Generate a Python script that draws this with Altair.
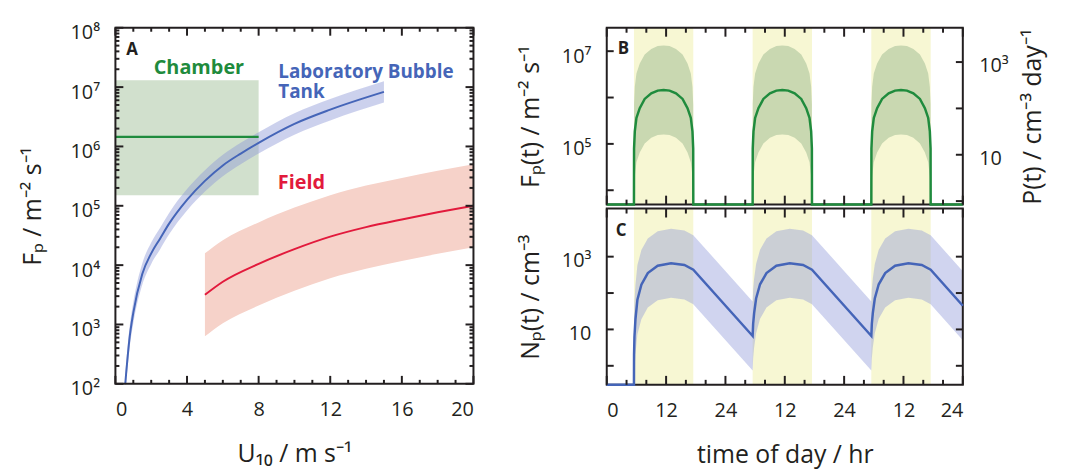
import math
import altair as alt
import pandas as pd

FONT = "Open Sans"
INK = "#231f20"
GREEN = "#1f8b3d"
BLUE = "#4565b8"
RED = "#e21a3c"

# ================= DATA =================
# ---- Panel A : F_P vs U10 ----
chamber_u = [0, 8]
chamber_F = [1.45e6, 1.45e6]
chamber_lo = [1.5e5, 1.5e5]
chamber_hi = [1.3e7, 1.3e7]

lab_u = [0.55, 0.8, 1.0, 1.5, 2.0, 2.5, 3.0, 4.0, 5.0, 6.0, 7.0, 8.0, 10.0, 12.0, 15.0]
lab_F = [100, 631, 1585, 7079, 1.58e4, 2.82e4, 5.01e4, 1.26e5, 2.63e5, 4.79e5, 7.59e5, 1.15e6, 2.4e6, 4.17e6, 8.3e6]
lab_hi = [151, 955, 2399, 1.07e4, 2.4e4, 4.27e4, 7.59e4, 1.91e5, 3.98e5, 7.24e5, 1.15e6, 1.74e6, 3.63e6, 6.31e6, 1.26e7]
lab_lo = [66, 417, 1047, 4677, 1.05e4, 1.86e4, 3.31e4, 8.32e4, 1.74e5, 3.16e5, 5.01e5, 7.59e5, 1.58e6, 2.75e6, 5.5e6]

field_u = [5, 6, 8, 10, 12, 14, 16, 18, 20]
field_F = [3162, 5248, 1.05e4, 1.86e4, 3.02e4, 4.37e4, 5.89e4, 7.76e4, 1.0e5]
field_hi = [1.58e4, 2.63e4, 5.25e4, 9.33e4, 1.51e5, 2.19e5, 2.95e5, 3.89e5, 5.01e5]
field_lo = [631, 1047, 2089, 3715, 6026, 8710, 1.17e4, 1.55e4, 2.0e4]

A_x_major = [0, 4, 8, 12, 16, 20]
A_x_minor = [1, 2, 3, 5, 6, 7, 9, 10, 11, 13, 14, 15, 17, 18, 19]
A_decades = [2, 3, 4, 5, 6, 7, 8]
A_mantissa = [2, 3, 4, 5, 6, 7, 8, 9]

A_text = ["A", "Chamber", "Laboratory Bubble\nTank", "Field"]
A_text_u = [0.6, 2.14, 9.1, 9.07]
A_text_F = [3.5e7, 1.66e7, 1.45e7, 1.95e5]
A_text_color = [INK, GREEN, BLUE, RED]
A_text_size = [17, 20, 19, 20]

# ---- Panels B, C : diurnal cycle ----
sunrise = [5.5, 29.5, 53.5]
sunset = [17.5, 41.5, 65.5]

hump_off = [0, 0.02, 0.17, 0.5, 1.17, 2.17, 3.5, 4.8, 6.0, 7.2, 8.5, 9.83, 10.83, 11.5, 11.83, 11.98, 12]
hump_F = [4.9e3, 7.9e4, 1.86e5, 3.63e5, 5.89e5, 9.33e5, 1.23e6, 1.41e6, 1.46e6, 1.41e6, 1.23e6, 9.33e5, 5.89e5, 3.63e5, 1.86e5, 7.9e4, 4.9e3]
hump_hi = [4.9e3, 7.2e5, 1.7e6, 3.3e6, 5.4e6, 8.5e6, 1.12e7, 1.29e7, 1.33e7, 1.29e7, 1.12e7, 8.5e6, 5.4e6, 3.3e6, 1.7e6, 7.2e5, 4.9e3]
hump_lo = [4.9e3, 8.7e3, 2.0e4, 4.0e4, 6.5e4, 1.02e5, 1.35e5, 1.55e5, 1.6e5, 1.55e5, 1.35e5, 1.02e5, 6.5e4, 4.0e4, 2.0e4, 8.7e3, 4.9e3]
B_night = 4.9e3

C_t = [0, 5.5, 5.52, 5.6, 5.8, 6.2, 7.0, 8.3, 10.3, 13.0, 15.7, 17.5,
       29.5, 29.6, 29.8, 30.2, 31.0, 32.3, 34.3, 37.0, 39.7, 41.5,
       53.5, 53.6, 53.8, 54.2, 55.0, 56.3, 58.3, 61.0, 63.7, 65.5, 72]
C_N = [0.3, 0.3, 2.0, 6.3, 18.8, 66, 170, 355, 562, 661, 589, 437,
       6.6, 14.1, 28.2, 70.8, 174, 355, 562, 661, 589, 437,
       6.6, 14.1, 28.2, 70.8, 174, 355, 562, 661, 589, 437, 44.7]
Cb_t = [5.5, 5.52, 5.6, 5.8, 6.2, 7.0, 8.3, 10.3, 13.0, 15.7, 17.5,
        29.5, 29.6, 29.8, 30.2, 31.0, 32.3, 34.3, 37.0, 39.7, 41.5,
        53.5, 53.6, 53.8, 54.2, 55.0, 56.3, 58.3, 61.0, 63.7, 65.5, 72]
C_hi = [0.3, 17.8, 56, 168, 589, 1514, 3162, 5012, 5888, 5248, 3890,
        58.9, 126, 251, 631, 1549, 3162, 5012, 5888, 5248, 3890,
        58.9, 126, 251, 631, 1549, 3162, 5012, 5888, 5248, 3890, 398]
C_lo = [0.3, 0.3, 0.71, 2.11, 7.4, 19.1, 39.8, 63, 74, 66, 49,
        0.74, 1.58, 3.16, 7.9, 19.5, 39.8, 63, 74, 66, 49,
        0.74, 1.58, 3.16, 7.9, 19.5, 39.8, 63, 74, 66, 49, 5.0]

T_major = [0, 12, 24, 36, 48, 60, 72]
T_minor = [4, 8, 16, 20, 28, 32, 40, 44, 52, 56, 64, 68]
B_F_ticks = [1e4, 1e5, 1e6, 1e7]
B_P_ticks = [1, 10, 100, 1000]
C_N_ticks = [1, 10, 100, 1000]

# domains
A_U_DOM = [0, 20]
A_F_DOM = [1e2, 1e8]
T_DOM = [0, 72]
B_F_DOM = [4.9e3, 3.2e7]
B_P_DOM = [0.84, 5.5e3]
C_N_DOM = [0.3, 2.1e4]

# ================= LAYOUT (pixels, plot-area coordinates) =================
W, H = 854.4, 360
A_L, A_R, A_T, A_B = 0, 361, 0, 359
BC_L, BC_R = 495.4, 854.4
B_T, B_B = 0, 178.3
C_T, C_B = 182.3, 360
TICK_W = 2


def lin(dom, rng):
    return alt.Scale(domain=dom, range=rng, nice=False, zero=False)


def logs(dom, rng):
    return alt.Scale(type="log", domain=dom, range=rng, nice=False)


sAx = lin(A_U_DOM, [A_L, A_R])
sAy = logs(A_F_DOM, [A_B, A_T])
sTx = lin(T_DOM, [BC_L, BC_R])
sBy = logs(B_F_DOM, [B_B, B_T])
sBp = logs(B_P_DOM, [B_B, B_T])
sCy = logs(C_N_DOM, [C_B, C_T])


def label_axis(orient, edge, values, **kw):
    if orient == "left":
        off = -edge
    elif orient == "right":
        off = edge - W
    elif orient == "top":
        off = -edge
    else:
        off = edge - H
    d = dict(orient=orient, values=values, offset=off, domain=False, ticks=False,
             grid=False, labels=True)
    d.update(kw)
    return alt.Axis(**d)


def xaxis_layer(values, scale, axis):
    return alt.Chart(pd.DataFrame({"v": values})).mark_point(opacity=0).encode(
        x=alt.X("v:Q", scale=scale, axis=axis))


def yaxis_layer(values, scale, axis):
    return alt.Chart(pd.DataFrame({"v": values})).mark_point(opacity=0).encode(
        y=alt.Y("v:Q", scale=scale, axis=axis))


def tick_layer(values, side, sx, sy, xdom, xrng, ydom, yrng, length):
    """Inward tick marks along one edge of a panel, drawn as rules.
    The tick length (pixels) is converted to data units of the scale."""
    if side in ("left", "right"):
        dx = length * (xdom[1] - xdom[0]) / abs(xrng[1] - xrng[0])
        e0 = xdom[0] if side == "left" else xdom[1]
        e1 = e0 + dx if side == "left" else e0 - dx
        df = pd.DataFrame({"v": values, "e0": [e0] * len(values), "e1": [e1] * len(values)})
        return alt.Chart(df).mark_rule(color=INK, strokeWidth=TICK_W, opacity=1).encode(
            y=alt.Y("v:Q", scale=sy, axis=None),
            x=alt.X("e0:Q", scale=sx, axis=None), x2="e1:Q")
    span = math.log10(ydom[1]) - math.log10(ydom[0])
    fac = 10 ** (length * span / abs(yrng[1] - yrng[0]))
    e0 = ydom[1] if side == "top" else ydom[0]
    e1 = e0 / fac if side == "top" else e0 * fac
    df = pd.DataFrame({"v": values, "e0": [e0] * len(values), "e1": [e1] * len(values)})
    return alt.Chart(df).mark_rule(color=INK, strokeWidth=TICK_W, opacity=1).encode(
        x=alt.X("v:Q", scale=sx, axis=None),
        y=alt.Y("e0:Q", scale=sy, axis=None), y2="e1:Q")


def sup_expr(decades):
    sup = {2: "²", 3: "³", 4: "⁴", 5: "⁵", 6: "⁶", 7: "⁷", 8: "⁸"}
    s = "''"
    for e in reversed(decades):
        lab = "10" if e == 1 else "10" + sup[e]
        s = f"datum.value == {10 ** e} ? '{lab}' : {s}"
    return s


def frame(xdom, ydom, sx, sy):
    df = pd.DataFrame({"x0": [xdom[0]], "x1": [xdom[1]], "y0": [ydom[0]], "y1": [ydom[1]]})
    return alt.Chart(df).mark_rect(fillOpacity=0, stroke=INK, strokeWidth=2).encode(
        x=alt.X("x0:Q", scale=sx, axis=None), x2="x1:Q",
        y=alt.Y("y0:Q", scale=sy, axis=None), y2="y1:Q")

# ================= Panel A =================
cham = pd.DataFrame({"u": chamber_u, "F": chamber_F, "lo": chamber_lo, "hi": chamber_hi})
lab = pd.DataFrame({"u": lab_u, "F": lab_F, "lo": lab_lo, "hi": lab_hi})
fld = pd.DataFrame({"u": field_u, "F": field_F, "lo": field_lo, "hi": field_hi})
atxt = pd.DataFrame({"u": A_text_u, "F": A_text_F, "t": A_text, "c": A_text_color, "s": A_text_size})

XA = lambda f: alt.X(f, scale=sAx, axis=None)
YA = lambda f: alt.Y(f, scale=sAy, axis=None)

A_minor_y = [m * 10 ** e for e in A_decades[:-1] for m in A_mantissa]
A_major_y = [10 ** e for e in A_decades]
A_geo = dict(sx=sAx, sy=sAy, xdom=A_U_DOM, xrng=[A_L, A_R], ydom=A_F_DOM, yrng=[A_B, A_T])

layers = [
    alt.Chart(cham).mark_rect(color="#a3c29b", opacity=0.5).encode(
        x=XA("min(u):Q"), x2="max(u):Q", y=YA("min(lo):Q"), y2="max(hi):Q"),
    alt.Chart(fld).mark_area(color="#f6d2c9", clip=True, interpolate="monotone").encode(
        x=XA("u:Q"), y=YA("lo:Q"), y2="hi:Q"),
    alt.Chart(lab).mark_area(color="#8f98d8", opacity=0.45, clip=True, interpolate="monotone").encode(
        x=XA("u:Q"), y=YA("lo:Q"), y2="hi:Q"),
    alt.Chart(cham).mark_line(color=GREEN, strokeWidth=2.5).encode(x=XA("u:Q"), y=YA("F:Q")),
    alt.Chart(lab).mark_line(color=BLUE, strokeWidth=2, clip=True, interpolate="monotone").encode(
        x=XA("u:Q"), y=YA("F:Q")),
    alt.Chart(fld).mark_line(color=RED, strokeWidth=2, interpolate="monotone").encode(
        x=XA("u:Q"), y=YA("F:Q")),
    alt.Chart(atxt).mark_text(align="left", baseline="alphabetic", font=FONT, fontWeight="bold",
                              lineBreak="\n", lineHeight=21).encode(
        x=XA("u:Q"), y=YA("F:Q"), text="t:N",
        color=alt.Color("c:N", scale=None), size=alt.Size("s:Q", scale=None)),
    frame(A_U_DOM, A_F_DOM, sAx, sAy),
    tick_layer(A_x_major, "bottom", length=8, **A_geo),
    tick_layer(A_x_minor, "bottom", length=4, **A_geo),
    tick_layer(A_x_major, "top", length=8, **A_geo),
    tick_layer(A_x_minor, "top", length=4, **A_geo),
    tick_layer(A_major_y, "left", length=8, **A_geo),
    tick_layer(A_minor_y, "left", length=4, **A_geo),
    tick_layer(A_major_y, "right", length=8, **A_geo),
    tick_layer(A_minor_y, "right", length=4, **A_geo),
    xaxis_layer(A_x_major, sAx, label_axis("bottom", A_B, A_x_major, labelPadding=16,
                                           title="U₁₀ / m s⁻¹", titlePadding=22)),
    yaxis_layer(A_major_y, sAy, label_axis("left", A_L, A_major_y, labelPadding=16,
                                           labelExpr=sup_expr(A_decades), labelOffset=5,
                                           title="Fₚ / m⁻² s⁻¹", titlePadding=25)),
]

# ================= Panel B =================
rows_line = [{"t": 0, "F": B_night}]
rows_band = []
for d, t0 in enumerate(sunrise):
    for o, f, hi, lo in zip(hump_off, hump_F, hump_hi, hump_lo):
        rows_line.append({"t": t0 + o, "F": f})
        rows_band.append({"t": t0 + o, "hi": hi, "lo": lo, "day": d})
rows_line.append({"t": 72, "F": B_night})
bline = pd.DataFrame(rows_line)
bband = pd.DataFrame(rows_band)
days_B = pd.DataFrame({"a": sunrise, "b": sunset, "y0": [B_F_DOM[0]] * 3, "y1": [B_F_DOM[1]] * 3})
days_C = pd.DataFrame({"a": sunrise, "b": sunset, "y0": [C_N_DOM[0]] * 3, "y1": [C_N_DOM[1]] * 3})

XT = lambda f: alt.X(f, scale=sTx, axis=None)
B_geo = dict(sx=sTx, sy=sBy, xdom=T_DOM, xrng=[BC_L, BC_R], ydom=B_F_DOM, yrng=[B_B, B_T])
Bp_geo = dict(sx=sTx, sy=sBp, xdom=T_DOM, xrng=[BC_L, BC_R], ydom=B_P_DOM, yrng=[B_B, B_T])
C_geo = dict(sx=sTx, sy=sCy, xdom=T_DOM, xrng=[BC_L, BC_R], ydom=C_N_DOM, yrng=[C_B, C_T])


def time_ticks(geo):
    return [
        tick_layer(T_major, "bottom", length=9, **geo),
        tick_layer(T_minor, "bottom", length=5, **geo),
        tick_layer(T_major, "top", length=9, **geo),
        tick_layer(T_minor, "top", length=5, **geo),
    ]


btxt = pd.DataFrame({"t": [2.2], "F": [8.5e6], "s": ["B"]})
layers += [
    alt.Chart(days_B).mark_rect(color="#f7f7d3").encode(
        x=XT("a:Q"), x2="b:Q", y=alt.Y("y0:Q", scale=sBy, axis=None), y2="y1:Q"),
    alt.Chart(bband).mark_area(color="#c9d8b1").encode(
        x=XT("t:Q"), y=alt.Y("lo:Q", scale=sBy, axis=None), y2="hi:Q", detail="day:N"),
    frame(T_DOM, B_F_DOM, sTx, sBy),
    alt.Chart(bline).mark_line(color=GREEN, strokeWidth=2.5).encode(
        x=XT("t:Q"), y=alt.Y("F:Q", scale=sBy, axis=None)),
    alt.Chart(btxt).mark_text(align="left", baseline="alphabetic", font=FONT, fontWeight="bold",
                              fontSize=17, color=INK).encode(
        x=XT("t:Q"), y=alt.Y("F:Q", scale=sBy, axis=None), text="s:N"),
] + time_ticks(B_geo) + [
    tick_layer(B_F_ticks, "left", length=7, **B_geo),
    tick_layer(B_P_ticks, "right", length=7, **Bp_geo),
    yaxis_layer(B_F_ticks, sBy, label_axis("left", BC_L, B_F_ticks, labelPadding=16,
                                           labelExpr=sup_expr([5, 7]), labelOffset=5,
                                           title="Fₚ(t) / m⁻² s⁻¹", titlePadding=18)),
    yaxis_layer(B_P_ticks, sBp, label_axis("right", BC_R, B_P_ticks, labelPadding=16,
                                           labelExpr=sup_expr([1, 3]), labelOffset=4,
                                           title="P(t) / cm⁻³ day⁻¹", titlePadding=12,
                                           titleAngle=270, titleBaseline="top")),
]

# ================= Panel C =================
cline = pd.DataFrame({"t": C_t, "N": C_N})
cband = pd.DataFrame({"t": Cb_t, "hi": C_hi, "lo": C_lo})
ctxt = pd.DataFrame({"t": [1.8], "N": [3.6e3], "s": ["C"]})
layers += [
    alt.Chart(days_C).mark_rect(color="#f7f7d3").encode(
        x=XT("a:Q"), x2="b:Q", y=alt.Y("y0:Q", scale=sCy, axis=None), y2="y1:Q"),
    alt.Chart(cband).mark_area(color="#8f98d8", opacity=0.42, clip=True).encode(
        x=XT("t:Q"), y=alt.Y("lo:Q", scale=sCy, axis=None), y2="hi:Q"),
    frame(T_DOM, C_N_DOM, sTx, sCy),
    alt.Chart(cline).mark_line(color=BLUE, strokeWidth=2.5).encode(
        x=XT("t:Q"), y=alt.Y("N:Q", scale=sCy, axis=None)),
    alt.Chart(ctxt).mark_text(align="left", baseline="alphabetic", font=FONT, fontWeight="bold",
                              fontSize=17, color=INK).encode(
        x=XT("t:Q"), y=alt.Y("N:Q", scale=sCy, axis=None), text="s:N"),
] + time_ticks(C_geo) + [
    tick_layer(C_N_ticks, "left", length=7, **C_geo),
    tick_layer(C_N_ticks, "right", length=7, **C_geo),
    xaxis_layer(T_major, sTx, label_axis(
        "bottom", C_B, T_major, labelPadding=16,
        labelExpr="datum.value == 0 ? '0' : (datum.value % 24 == 0 ? '24' : '12')",
        title="time of day / hr", titlePadding=22)),
    yaxis_layer(C_N_ticks, sCy, label_axis("left", BC_L, C_N_ticks, labelPadding=16,
                                           labelExpr=sup_expr([1, 3]), labelOffset=4,
                                           title="Nₚ(t) / cm⁻³", titlePadding=18)),
]

chart = alt.layer(*layers).resolve_scale(x="independent", y="independent").resolve_axis(
    x="independent", y="independent").properties(
    width=W, height=H,
    autosize=alt.AutoSizeParams(type="none"),
    padding={"left": 108.3, "top": 18, "right": 100, "bottom": 88},
).configure_view(stroke=None).configure_axis(
    labelFont=FONT, labelFontSize=20, labelColor=INK,
    titleFont=FONT, titleFontSize=25, titleFontWeight="normal", titleColor=INK)

chart.save("out.html", embed_options={"renderer": "svg", "actions": False})
